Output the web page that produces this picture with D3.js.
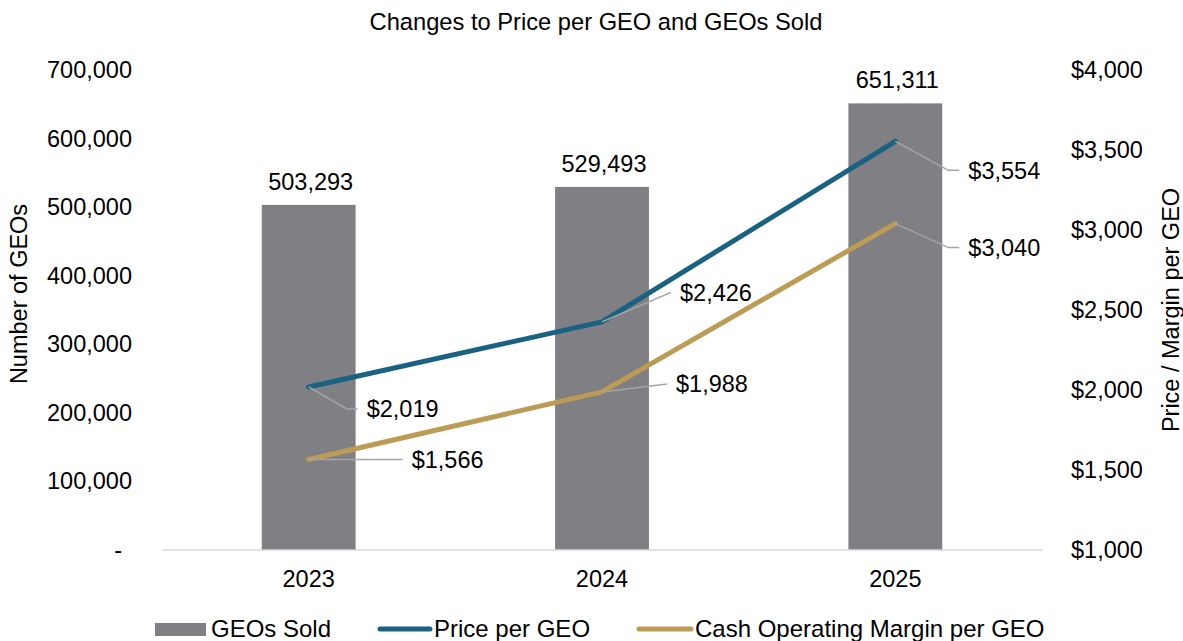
<!DOCTYPE html>
<html lang="en">
<head>
  <meta charset="UTF-8">
  <title>Changes to Price per GEO and GEOs Sold</title>
  <style>
    body { margin: 0; background: #fff; font-family: "Liberation Sans", Arial, sans-serif; }
    text { fill: #000; }
  </style>
  <script src="https://d3js.org/d3.v7.min.js"></script>
</head>
<body>
  <svg id="chart"></svg>
  <script>
    const years = ["2023", "2024", "2025"];
    const geosSold = [503293, 529493, 651311];
    const pricePerGeo = [2019, 2426, 3554];
    const marginPerGeo = [1566, 1988, 3040];
    const leftTicks = [0, 100000, 200000, 300000, 400000, 500000, 600000, 700000];
    const rightTicks = [1000, 1500, 2000, 2500, 3000, 3500, 4000];

    // label offsets from the point: [leader bend dx, dy, text dx]
    const priceLabelPos = [[38, 22, 58], [68, -29, 78], [53, 29, 73]];
    const marginLabelPos = [[94, 0, 103], [65, -8, 74], [53, 24, 73]];

    const W = 1183, H = 641;
    const margin = { top: 70, right: 141, bottom: 91, left: 162 };
    const width = W - margin.left - margin.right;
    const height = H - margin.top - margin.bottom;
    const FS = "23.5px";
    const FONT = "Liberation Sans, Arial, sans-serif";

    const svg = d3.select("#chart").attr("width", W).attr("height", H);
    const g = svg.append("g").attr("transform", `translate(${margin.left},${margin.top})`);

    const x = d3.scaleBand().domain(years).range([0, width]);
    const yLeft = d3.scaleLinear().domain([0, 700000]).range([height, 0]);
    const yRight = d3.scaleLinear().domain([1000, 4000]).range([height, 0]);

    const colors = { bar: "#7f7f84", price: "#1b6182", margin: "#bb9b55", leader: "#a6a6a6" };

    // title
    svg.append("text").attr("x", 596).attr("y", 30).attr("text-anchor", "middle")
      .style("font-size", "23.7px").text("Changes to Price per GEO and GEOs Sold");

    // left axis
    const fmt = d3.format(",");
    const leftAxis = g.append("g")
      .call(d3.axisLeft(yLeft).tickValues(leftTicks).tickSize(0).tickPadding(30)
        .tickFormat(d => d === 0 ? "-" : fmt(d)));
    leftAxis.select(".domain").remove();
    leftAxis.selectAll("text").style("font-size", FS).style("font-family", FONT);
    leftAxis.selectAll(".tick").filter(d => d === 0).select("text").attr("x", -40);

    // right axis
    const rightAxis = g.append("g").attr("transform", `translate(${width},0)`)
      .call(d3.axisRight(yRight).tickValues(rightTicks).tickSize(0).tickPadding(29)
        .tickFormat(d => "$" + fmt(d)));
    rightAxis.select(".domain").remove();
    rightAxis.selectAll("text").style("font-size", FS).style("font-family", FONT);

    // axis titles
    svg.append("text").attr("transform", "translate(27,294) rotate(-90)")
      .attr("text-anchor", "middle").style("font-size", FS).text("Number of GEOs");
    svg.append("text").attr("transform", "translate(1179,310) rotate(-90)")
      .attr("text-anchor", "middle").style("font-size", FS).text("Price / Margin per GEO");

    // bars
    const barW = x.bandwidth() * 0.32;
    g.selectAll(".bar").data(geosSold).join("rect").attr("class", "bar")
      .attr("x", (d, i) => x(years[i]) + x.bandwidth() / 2 - barW / 2)
      .attr("y", d => yLeft(d))
      .attr("width", barW)
      .attr("height", d => height - yLeft(d))
      .attr("fill", colors.bar);

    g.selectAll(".bar-label").data(geosSold).join("text").attr("class", "bar-label")
      .attr("x", (d, i) => x(years[i]) + x.bandwidth() / 2 + 2)
      .attr("y", d => yLeft(d) - 15)
      .attr("text-anchor", "middle").style("font-size", FS)
      .text(d => fmt(d));

    // baseline
    g.append("line").attr("x1", 0).attr("x2", width).attr("y1", height).attr("y2", height)
      .attr("stroke", "#d9d9d9").attr("stroke-width", 1.5);

    // x axis labels
    const xAxis = g.append("g").attr("transform", `translate(0,${height})`)
      .call(d3.axisBottom(x).tickSize(0));
    xAxis.select(".domain").remove();
    xAxis.selectAll("text").attr("y", 37).attr("dy", 0)
      .style("font-size", FS).style("font-family", FONT);

    const cx = i => x(years[i]) + x.bandwidth() / 2;

    function drawSeries(values, color, pos) {
      const line = d3.line().x((d, i) => cx(i)).y(d => yRight(d));
      g.append("path").datum(values).attr("d", line)
        .attr("fill", "none").attr("stroke", color).attr("stroke-width", 5)
        .attr("stroke-linejoin", "round").attr("stroke-linecap", "round");

      values.forEach((v, i) => {
        const px = cx(i), py = yRight(v);
        const [bx, by, tx] = pos[i];
        g.append("polyline")
          .attr("points", `${px},${py} ${px + bx},${py + by} ${px + tx - 9},${py + by}`)
          .attr("fill", "none").attr("stroke", colors.leader).attr("stroke-width", 1.5);
        g.append("text").attr("x", px + tx).attr("y", py + by).attr("dy", "0.35em")
          .style("font-size", FS).text("$" + fmt(v));
      });
    }
    drawSeries(pricePerGeo, colors.price, priceLabelPos);
    drawSeries(marginPerGeo, colors.margin, marginLabelPos);

    // legend
    const LFS = "24px";
    const lg = svg.append("g").attr("transform", "translate(0,629)");
    lg.append("rect").attr("x", 155).attr("y", -6).attr("width", 51).attr("height", 13).attr("fill", colors.bar);
    lg.append("text").attr("x", 211).attr("y", 0).attr("dy", "0.35em").style("font-size", LFS).text("GEOs Sold");
    lg.append("line").attr("x1", 380).attr("x2", 430).attr("y1", 0).attr("y2", 0)
      .attr("stroke", colors.price).attr("stroke-width", 5).attr("stroke-linecap", "round");
    lg.append("text").attr("x", 434).attr("y", 0).attr("dy", "0.35em").style("font-size", LFS).text("Price per GEO");
    lg.append("line").attr("x1", 639).attr("x2", 691).attr("y1", 0).attr("y2", 0)
      .attr("stroke", colors.margin).attr("stroke-width", 5).attr("stroke-linecap", "round");
    lg.append("text").attr("x", 695).attr("y", 0).attr("dy", "0.35em").style("font-size", LFS).text("Cash Operating Margin per GEO");
  </script>
</body>
</html>
